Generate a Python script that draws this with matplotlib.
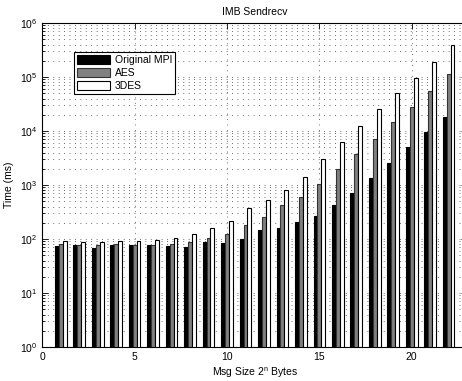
import matplotlib
matplotlib.use("Agg")
import matplotlib.pyplot as plt
import numpy as np

plt.rcParams["font.family"] = ["Liberation Sans", "DejaVu Sans"]

# message size exponent n (2^n bytes)
sizes = list(range(1, 23))

# time in ms
orig_mpi = [73, 75, 67, 76, 76, 77, 73, 70, 87, 82, 100, 143, 162, 207,
            263, 425, 724, 1320, 2580, 4960, 9530, 18500]
aes = [79, 77, 76, 79, 78, 77, 79, 87, 103, 123, 179, 255, 425, 596,
       1060, 1990, 3720, 7260, 14400, 28000, 56000, 112000]
des3 = [90, 87, 87, 90, 90, 94, 103, 122, 158, 213, 367, 525, 822, 1380,
        3080, 6300, 12300, 25200, 51000, 96700, 193000, 390000]

series = [("Original MPI", orig_mpi, "black", "black"),
          ("AES", aes, "#808080", "#333333"),
          ("3DES", des3, "white", "black")]

fig = plt.figure(figsize=(4.62, 3.81), dpi=100)
ax = fig.add_axes([0.0916, 0.0892, 0.9195, 0.8504])

x = np.array(sizes)
w = 0.21
for i, (name, vals, fc, ec) in enumerate(series):
    ax.bar(x + (i - 1) * w, vals, width=w, bottom=1, color=fc,
           edgecolor=ec, linewidth=0.8, label=name, zorder=3)

ax.set_yscale("log")
ax.set_ylim(1, 1e6)
ax.set_xlim(0, 23)
ax.set_xticks([0, 5, 10, 15, 20])

# matlab style dotted grid
grid_kw = dict(color="0.25", linewidth=0.6, linestyle=(0, (1, 5.5)))
ax.grid(True, which="major", axis="both", **grid_kw)
ax.grid(True, which="minor", axis="y", **grid_kw)
ax.set_axisbelow(True)

ax.tick_params(which="both", direction="in", top=True, right=True,
               labelsize=7.5, width=0.6)
ax.tick_params(which="major", length=4)
ax.tick_params(which="minor", length=2)
for s in ax.spines.values():
    s.set_linewidth(0.8)

ax.set_title("IMB Sendrecv", fontsize=7.5, pad=6)
ax.set_xlabel("Msg Size 2$^{\\mathregular{n}}$ Bytes", fontsize=7.5, labelpad=3)
ax.set_ylabel("Time (ms)", fontsize=7.5, labelpad=4)

leg = ax.legend(loc="upper left", bbox_to_anchor=(0.0746, 0.91),
                borderaxespad=0, fontsize=7.5, fancybox=False,
                edgecolor="black", framealpha=1, handlelength=3.2,
                handleheight=0.95, labelspacing=0.25, borderpad=0.3,
                handletextpad=0.4)
leg.get_frame().set_linewidth(0.8)

fig.savefig("out.png", dpi=100)
